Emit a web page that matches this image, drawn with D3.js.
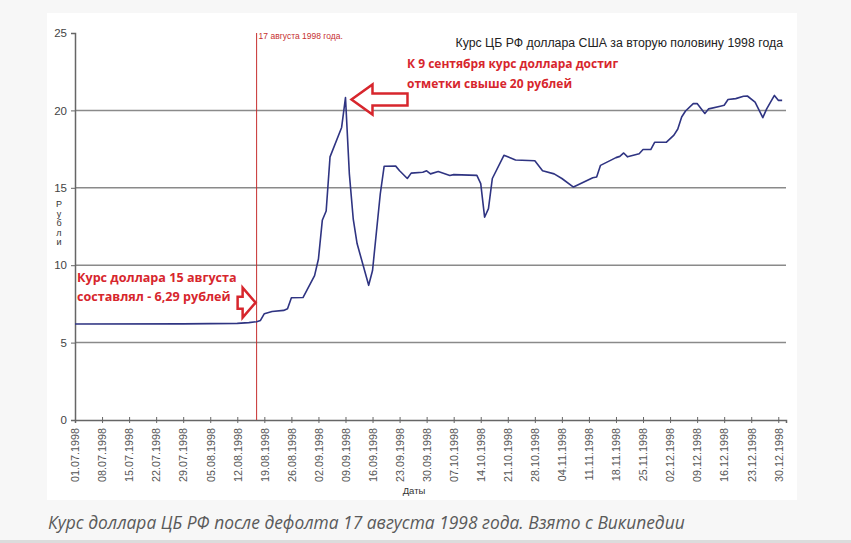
<!DOCTYPE html>
<html lang="ru">
<head>
    <meta charset="UTF-8">
    <title>Курс доллара ЦБ РФ, 1998</title>
    <script src="https://d3js.org/d3.v7.js"></script>
    <style>
        body {
            margin: 0;
            background: #f7f7f7;
        }
        svg text {
            font-family: Arial, "Liberation Sans", sans-serif;
        }
        .note {
            font-family: "Open Sans", sans-serif !important;
            font-weight: bold;
            font-size: 12.6px;
            fill: #d7262d;
        }
        .caption {
            font-family: "Open Sans", sans-serif !important;
            font-style: italic;
            font-size: 17.4px;
            fill: #5a5a5a;
        }
    </style>
</head>
<body>
    <svg id="chart" width="851" height="543"></svg>

    <script>
        // Dates of the points and the rate (rubles per dollar)
        const dates = [
            "01.07.1998", "29.07.1998", "12.08.1998", "15.08.1998", "17.08.1998", "18.08.1998",
            "19.08.1998", "21.08.1998", "24.08.1998", "25.08.1998", "26.08.1998", "29.08.1998",
            "01.09.1998", "02.09.1998", "03.09.1998", "04.09.1998", "05.09.1998", "08.09.1998",
            "09.09.1998", "10.09.1998", "11.09.1998", "12.09.1998", "15.09.1998", "16.09.1998",
            "18.09.1998", "19.09.1998", "22.09.1998", "23.09.1998", "25.09.1998", "26.09.1998",
            "29.09.1998", "30.09.1998", "01.10.1998", "03.10.1998", "06.10.1998", "07.10.1998",
            "13.10.1998", "14.10.1998", "15.10.1998", "16.10.1998", "17.10.1998", "20.10.1998",
            "23.10.1998", "28.10.1998", "30.10.1998", "02.11.1998", "04.11.1998", "07.11.1998",
            "12.11.1998", "13.11.1998", "14.11.1998", "18.11.1998", "19.11.1998", "20.11.1998",
            "21.11.1998", "24.11.1998", "25.11.1998", "27.11.1998", "28.11.1998", "01.12.1998",
            "03.12.1998", "04.12.1998", "05.12.1998", "06.12.1998", "08.12.1998", "09.12.1998",
            "11.12.1998", "12.12.1998", "15.12.1998", "16.12.1998", "17.12.1998", "19.12.1998",
            "21.12.1998", "22.12.1998", "24.12.1998", "26.12.1998", "27.12.1998", "29.12.1998",
            "30.12.1998", "31.12.1998"
        ];
        const rates = [
            6.20, 6.21, 6.24, 6.29, 6.35, 6.43,
            6.87, 7.01, 7.08, 7.19, 7.90, 7.91,
            9.33, 10.4, 12.9, 13.5, 17.0, 18.9,
            20.83, 15.9, 13.0, 11.4, 8.7, 9.66,
            14.6, 16.39, 16.4, 16.1, 15.6, 15.95,
            16.0, 16.1, 15.9, 16.05, 15.8, 15.85,
            15.8, 15.27, 13.1, 13.65, 15.6, 17.1,
            16.8, 16.75, 16.1, 15.9, 15.6, 15.05,
            15.65, 15.7, 16.45, 16.95, 17.03, 17.25,
            17.0, 17.2, 17.47, 17.47, 17.94, 17.94,
            18.4, 18.8, 19.57, 19.96, 20.44, 20.44,
            19.8, 20.1, 20.27, 20.33, 20.7, 20.76,
            20.91, 20.93, 20.54, 19.53, 20.1, 20.97,
            20.65, 20.65
        ];

        // Axis ticks
        const xTicks = [
            "01.07.1998", "08.07.1998", "15.07.1998", "22.07.1998", "29.07.1998", "05.08.1998",
            "12.08.1998", "19.08.1998", "26.08.1998", "02.09.1998", "09.09.1998", "16.09.1998",
            "23.09.1998", "30.09.1998", "07.10.1998", "14.10.1998", "21.10.1998", "28.10.1998",
            "04.11.1998", "11.11.1998", "18.11.1998", "25.11.1998", "02.12.1998", "09.12.1998",
            "16.12.1998", "23.12.1998", "30.12.1998"
        ];
        const yTicks = [0, 5, 10, 15, 20, 25];

        const parse = d3.timeParse("%d.%m.%Y");
        const fmt = d3.timeFormat("%d.%m.%Y");
        const data = dates.map((d, i) => ({date: parse(d), value: rates[i]}));

        const svg = d3.select("#chart");

        // white panel and the page bits
        svg.append("rect").attr("x", 47).attr("y", 13).attr("width", 750).attr("height", 487).attr("fill", "#fff");
        svg.append("line").attr("x1", 0).attr("x2", 851).attr("y1", 541.5).attr("y2", 541.5)
            .attr("stroke", "#dcdcdc").attr("stroke-width", 3);

        const x = d3.scaleTime()
            .domain([parse("01.07.1998"), parse("01.01.1999")])
            .range([75, 786]);
        const y = d3.scaleLinear()
            .domain([0, 25])
            .range([420, 33]);

        // grid lines
        svg.append("g")
            .selectAll("line")
            .data(yTicks.filter(v => v > 0 && v < 25))
            .join("line")
            .attr("x1", 75).attr("x2", 786)
            .attr("y1", d => y(d)).attr("y2", d => y(d))
            .attr("stroke", "#8a8a8a").attr("stroke-width", 1.5);

        // y axis
        const gy = svg.append("g")
            .attr("transform", "translate(75,0)")
            .call(d3.axisLeft(y).tickValues(yTicks).tickSize(4).tickPadding(4));
        gy.select(".domain").attr("stroke", "#666").attr("stroke-width", 1.5);
        gy.selectAll(".tick line").attr("stroke", "#666");
        gy.selectAll(".tick text").attr("font-size", 11.5).attr("fill", "#444");

        // x axis
        const gx = svg.append("g")
            .attr("transform", "translate(0,420)")
            .call(d3.axisBottom(x).tickValues(xTicks.map(parse)).tickFormat(fmt).tickSize(3));
        gx.select(".domain").attr("stroke", "#666").attr("stroke-width", 1.5);
        gx.selectAll(".tick line").attr("y1", -3).attr("y2", 3).attr("stroke", "#666");
        gx.selectAll(".tick text")
            .attr("transform", "rotate(-90)")
            .attr("x", -8).attr("y", 0).attr("dy", "0.35em")
            .attr("text-anchor", "end")
            .attr("font-size", 10.8).attr("fill", "#555");

        // axis titles
        svg.append("text").attr("x", 414).attr("y", 494).attr("text-anchor", "middle")
            .attr("font-size", 9.5).attr("fill", "#333").text("Даты");
        svg.append("text").attr("x", 59).attr("y", 207).attr("text-anchor", "middle")
            .attr("font-size", 9).attr("fill", "#333")
            .selectAll("tspan")
            .data("Рубли".split(""))
            .join("tspan")
            .attr("x", 59).attr("dy", (d, i) => i ? 9.5 : 0)
            .text(d => d);

        // chart title
        svg.append("text").attr("x", 783).attr("y", 47).attr("text-anchor", "end")
            .attr("font-size", 12.3).attr("fill", "#222")
            .text("Курс ЦБ РФ доллара США за вторую половину 1998 года");

        // default date marker
        const xDef = x(parse("17.08.1998"));
        svg.append("line").attr("x1", xDef).attr("x2", xDef).attr("y1", 33).attr("y2", 420)
            .attr("stroke", "#c62f2f").attr("stroke-width", 1);
        svg.append("text").attr("x", xDef + 2).attr("y", 39)
            .attr("font-size", 8.5).attr("fill", "#c62f2f").text("17 августа 1998 года.");

        // the rate line
        svg.append("path")
            .datum(data)
            .attr("fill", "none")
            .attr("stroke", "#2f3482")
            .attr("stroke-width", 1.6)
            .attr("stroke-linejoin", "round")
            .attr("d", d3.line().x(d => x(d.date)).y(d => y(d.value)));

        // annotations
        const note1 = svg.append("text").attr("class", "note").attr("x", 407).attr("y", 68)
            .style("font-size", "12px");
        note1.append("tspan").attr("x", 407).text("К 9 сентября курс доллара достиг");
        note1.append("tspan").attr("x", 407).attr("dy", 20).text("отметки свыше 20 рублей");

        const note2 = svg.append("text").attr("class", "note").attr("x", 77).attr("y", 282);
        note2.append("tspan").attr("x", 77).text("Курс доллара 15 августа");
        note2.append("tspan").attr("x", 77).attr("dy", 19).text("составлял - 6,29 рублей");

        // arrow pointing left at the peak
        const tipX = x(parse("09.09.1998")) + 6, tipY = y(20.83) + 2;
        const leftArrow = [
            [0, 0], [21, -15], [21, -6], [56, -6], [56, 6], [21, 6], [21, 15]
        ].map(([dx, dy]) => [tipX + dx, tipY + dy]);
        svg.append("polygon")
            .attr("points", leftArrow.map(p => p.join(",")).join(" "))
            .attr("fill", "#fff").attr("stroke", "#d7262d").attr("stroke-width", 2.5)
            .attr("stroke-linejoin", "miter");

        // arrow pointing right at the default line
        const tip2X = xDef - 1, tip2Y = y(6.29) - 20;
        const rightArrow = [
            [0, 0], [-13, -15], [-13, -6], [-18, -6], [-18, 6], [-13, 6], [-13, 15]
        ].map(([dx, dy]) => [tip2X + dx, tip2Y + dy]);
        svg.append("polygon")
            .attr("points", rightArrow.map(p => p.join(",")).join(" "))
            .attr("fill", "#fff").attr("stroke", "#d7262d").attr("stroke-width", 2.5);

        // caption below the chart
        svg.append("text").attr("class", "caption").attr("x", 48).attr("y", 529)
            .text("Курс доллара ЦБ РФ после дефолта 17 августа 1998 года. Взято с Википедии");
    </script>
</body>
</html>
